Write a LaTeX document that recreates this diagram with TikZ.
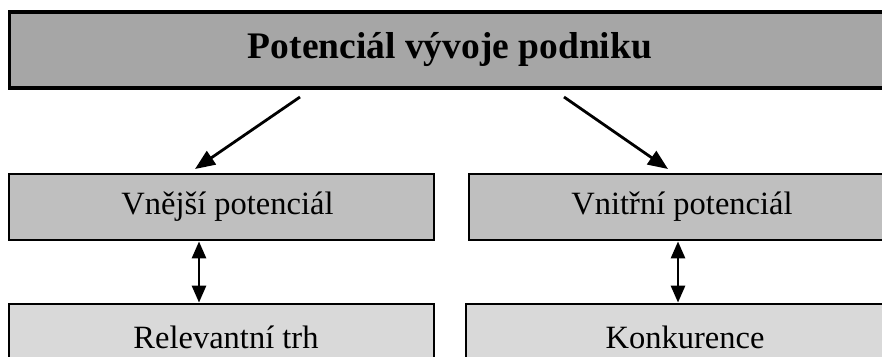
\documentclass[tikz,border=0pt]{standalone}
\usepackage{fontspec}
\setmainfont{Liberation Serif}
\usetikzlibrary{arrows.meta}
\definecolor{topfill}{HTML}{A6A6A6}
\definecolor{midfill}{HTML}{BFBFBF}
\definecolor{lowfill}{HTML}{D9D9D9}
\tikzset{
  box/.style={draw=black, line width=2.8pt, inner sep=0pt, anchor=center,
    font=\fontsize{32.5}{38}\selectfont},
  topbox/.style={box, fill=topfill, line width=3.2pt, minimum width=881pt, minimum height=76pt,
    font=\bfseries\fontsize{37.5}{44}\selectfont},
  midbox/.style={box, fill=midfill, minimum height=66pt},
  lowbox/.style={box, fill=lowfill, minimum height=66pt},
  arr/.style={line width=2.8pt, -{Triangle[length=20pt,width=16pt]}},
  dbl/.style={line width=2.8pt, {Triangle[length=17pt,width=14pt]}-{Triangle[length=17pt,width=14pt]}}
}
\begin{document}
\begin{tikzpicture}[x=1pt,y=-1pt]
\clip (0,0) rectangle (882,356);
\fill[white] (0,0) rectangle (882,356);
\node[topbox] (top) at (450,50) {Potenciál vývoje podniku};
\node[midbox, minimum width=425pt] (vl) at (221.5,207) {\hspace*{12pt}Vnější potenciál};
\node[midbox, minimum width=426pt] (vr) at (682,207) {Vnitřní potenciál};
\node[lowbox, minimum width=425pt] (ll) at (221.5,337) {\hspace*{9pt}Relevantní trh};
\node[lowbox, minimum width=438pt] (lr) at (685,337) {Konkurence};
\coordinate (a1) at (300,97);
\coordinate (b1) at (195,169);
\coordinate (a2) at (564,97);
\coordinate (b2) at (668,169);
\coordinate (dl) at (199,0);
\coordinate (dr) at (678,0);
\draw[arr] (a1) -- (b1);
\draw[arr] (a2) -- (b2);
\draw[dbl] (vl.south -| dl) -- (ll.north -| dl);
\draw[dbl] (vr.south -| dr) -- (lr.north -| dr);
\end{tikzpicture}
\end{document}
